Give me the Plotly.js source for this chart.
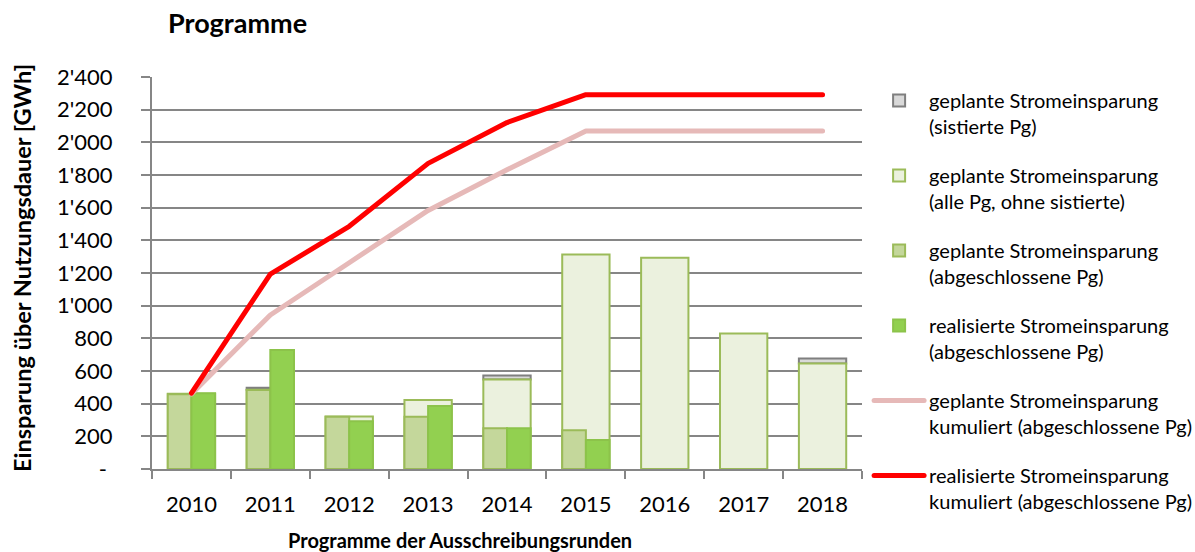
<!DOCTYPE html>
<html>
<head>
<meta charset="utf-8">
<script src="https://cdn.plot.ly/plotly-3.0.1.min.js"></script>
<style>
  html, body { margin: 0; padding: 0; background: #fff; }
  #chart { width: 1195px; height: 552px; }
  #chart path.js-line { stroke-linecap: round; stroke-linejoin: round; }
</style>
</head>
<body>
<div id="chart"></div>
<script>
// Programmjahre (Ausschreibungsrunden)
const years = ['2010', '2011', '2012', '2013', '2014', '2015', '2016', '2017', '2018'];

// geplante Stromeinsparung (sistierte Pg), auf "alle Pg" gestapelt
const geplantSistiert = [null, 12, null, null, 25, null, null, null, 30];
// geplante Stromeinsparung (alle Pg, ohne sistierte)
const geplantAlle = [460, 485, 322, 422, 548, 1313, 1293, 830, 646];
// geplante Stromeinsparung (abgeschlossene Pg)
const geplantAbg = [458, 483, 320, 320, 249, 238, null, null, null];
// realisierte Stromeinsparung (abgeschlossene Pg)
const realisiertAbg = [464, 728, 293, 385, 250, 177, null, null, null];
// kumulierte Werte
const geplantKum = [460, 943, 1263, 1583, 1832, 2070, 2070, 2070, 2070];
const realisiertKum = [465, 1193, 1486, 1871, 2121, 2292, 2292, 2292, 2292];

const yTicks = [0, 200, 400, 600, 800, 1000, 1200, 1400, 1600, 1800, 2000, 2200, 2400];
const yTickText = ['-\u00a0', '200', '400', '600', '800', "1'000", "1'200", "1'400", "1'600", "1'800", "2'000", "2'200", "2'400"];

const FONT = 'Lato, "Open Sans", sans-serif';
const olive = '#9BBB59';
const grey = '#868686';

const traces = [
  {
    type: 'bar', name: 'geplante Stromeinsparung<br>(sistierte Pg)',
    x: years, y: geplantSistiert, base: geplantAlle,
    width: 0.6, offset: -0.3,
    marker: { color: '#D9D9D9', line: { color: '#7F7F7F', width: 2 } },
    legendgroup: 'a'
  },
  {
    type: 'bar', name: 'geplante Stromeinsparung<br>(alle Pg, ohne sistierte)',
    x: years, y: geplantAlle,
    width: 0.6, offset: -0.3,
    marker: { color: '#EBF1DE', line: { color: olive, width: 2 } },
    legendgroup: 'b'
  },
  {
    type: 'bar', name: 'geplante Stromeinsparung<br>(abgeschlossene Pg)',
    x: years, y: geplantAbg,
    width: 0.3, offset: -0.3,
    marker: { color: '#C4D79B', line: { color: olive, width: 2 } },
    legendgroup: 'c'
  },
  {
    type: 'bar', name: 'realisierte Stromeinsparung<br>(abgeschlossene Pg)',
    x: years, y: realisiertAbg,
    width: 0.3, offset: 0,
    marker: { color: '#92D050', line: { color: '#8CC34A', width: 2 } },
    legendgroup: 'd'
  },
  {
    type: 'scatter', mode: 'lines', name: 'geplante Stromeinsparung<br>kumuliert (abgeschlossene Pg)',
    x: years, y: geplantKum,
    line: { color: '#E6B9B8', width: 5 },
    legendgroup: 'e'
  },
  {
    type: 'scatter', mode: 'lines', name: 'realisierte Stromeinsparung<br>kumuliert (abgeschlossene Pg)',
    x: years, y: realisiertKum,
    line: { color: '#FF0000', width: 5 },
    legendgroup: 'f'
  }
];

const layout = {
  width: 1195, height: 552,
  margin: { l: 152, r: 333, t: 77, b: 83, autoexpand: false },
  paper_bgcolor: '#fff', plot_bgcolor: '#fff',
  font: { family: FONT, color: '#000', size: 20 },
  barmode: 'overlay',
  hovermode: false,
  title: {
    text: '<b>Programme</b>',
    font: { family: FONT, size: 27, color: '#000' },
    x: 168 / 1195, xref: 'container', xanchor: 'left',
    y: 1 - 24 / 552, yref: 'container', yanchor: 'middle'
  },
  xaxis: {
    type: 'category', range: [-0.5, 8.5],
    showline: true, linecolor: grey, linewidth: 2,
    ticks: 'outside', tickson: 'boundaries', ticklen: 8, tickcolor: grey, tickwidth: 2,
    ticklabelstandoff: 15,
    tickfont: { family: FONT, size: 22 },
    showgrid: false, fixedrange: true
  },
  yaxis: {
    range: [0, 2400],
    tickvals: yTicks, ticktext: yTickText,
    showline: true, linecolor: grey, linewidth: 2,
    ticks: 'outside', ticklen: 9, tickcolor: grey, tickwidth: 2,
    ticklabelstandoff: 24,
    showgrid: true, gridcolor: grey, gridwidth: 2,
    zeroline: false,
    tickfont: { family: FONT, size: 22 },
    fixedrange: true
  },
  legend: {
    x: 1.01, xanchor: 'left', y: 0.99, yanchor: 'top',
    font: { family: FONT, size: 20, color: '#000' },
    valign: 'top', itemwidth: 50, tracegroupgap: 20,
    maxheight: 552,
    bgcolor: 'rgba(0,0,0,0)'
  },
  annotations: [
    {
      text: '<b>Einsparung über Nutzungsdauer [GWh]</b>',
      xref: 'paper', yref: 'paper', x: -0.183, y: 0.513,
      xanchor: 'center', yanchor: 'middle', textangle: -90, showarrow: false,
      font: { family: FONT, size: 23.5, color: '#000' }
    },
    {
      text: '<b>Programme der Ausschreibungsrunden</b>',
      xref: 'paper', yref: 'paper', x: 0.434, y: -0.181,
      xanchor: 'center', yanchor: 'middle', showarrow: false,
      font: { family: FONT, size: 20, color: '#000' }
    }
  ]
};

Plotly.newPlot('chart', traces, layout, { displayModeBar: false, staticPlot: true });
</script>
</body>
</html>
